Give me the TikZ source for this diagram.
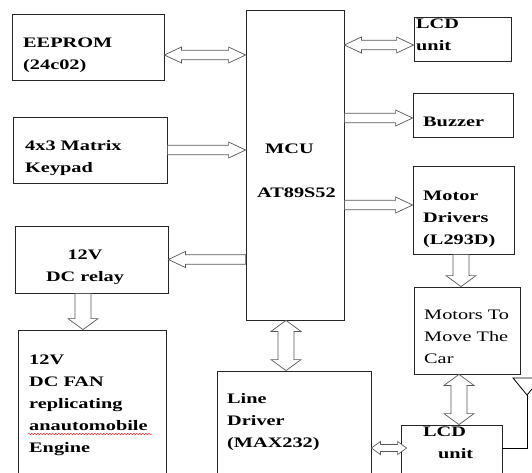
\documentclass[tikz,border=0pt]{standalone}
\usepackage{fontspec}
\setmainfont{Liberation Serif}[FakeStretch=1.4]
\usetikzlibrary{calc,decorations.pathmorphing}

% arrow sizes: head length, shaft and head half widths
% (x for vertical arrows, y for horizontal ones)
\newcommand\hlx{17pt}
\newcommand\hly{11pt}
\newcommand\swx{8pt}
\newcommand\swy{4.75pt}
\newcommand\hwx{15pt}
\newcommand\hwy{8pt}

\begin{document}
\begin{tikzpicture}[x=1pt, y=-1pt,
    box/.style={draw=black!85, line width=0.8pt},
    lbl/.style={anchor=base west, align=left, inner sep=0pt,
        font=\fontsize{14.5}{22}\selectfont\bfseries},
    hollow/.style={draw=black!65, fill=white, line width=0.7pt, line join=miter},
    sarrow/.style={hollow, to path={
        let \p1=(\tikztostart), \p2=(\tikztotarget),
            \n1={veclen(\x2-\x1,\y2-\y1)},
            \n2={(\x2-\x1)/\n1}, \n3={(\y2-\y1)/\n1},
            \p3=({\n2*\hlx},{\n3*\hly}),
            \p4=({-1*\n3*\swx},{\n2*\swy}),
            \p5=({-1*\n3*\hwx},{\n2*\hwy}) in
        ($(\p1)+(\p4)$) -- ($(\p2)-(\p3)+(\p4)$) -- ($(\p2)-(\p3)+(\p5)$) -- (\p2)
        -- ($(\p2)-(\p3)-(\p5)$) -- ($(\p2)-(\p3)-(\p4)$) -- ($(\p1)-(\p4)$) -- cycle}},
    darrow/.style={hollow, to path={
        let \p1=(\tikztostart), \p2=(\tikztotarget),
            \n1={veclen(\x2-\x1,\y2-\y1)},
            \n2={(\x2-\x1)/\n1}, \n3={(\y2-\y1)/\n1},
            \p3=({\n2*\hlx},{\n3*\hly}),
            \p4=({-1*\n3*\swx},{\n2*\swy}),
            \p5=({-1*\n3*\hwx},{\n2*\hwy}) in
        (\p1) -- ($(\p1)+(\p3)+(\p5)$) -- ($(\p1)+(\p3)+(\p4)$)
        -- ($(\p2)-(\p3)+(\p4)$) -- ($(\p2)-(\p3)+(\p5)$) -- (\p2)
        -- ($(\p2)-(\p3)-(\p5)$) -- ($(\p2)-(\p3)-(\p4)$)
        -- ($(\p1)+(\p3)-(\p4)$) -- ($(\p1)+(\p3)-(\p5)$) -- cycle}},
    smallarrow/.code={\def\hlx{9pt}\def\swy{3.5pt}\def\hwy{6.5pt}}]

    \useasboundingbox (0,0) rectangle (532,472);
    \clip (0,0) rectangle (532,472);

    % Boxes
    \node[box, minimum width=152pt, minimum height=66pt] (eeprom) at (88,47) {};
    \node[box, minimum width=154pt, minimum height=66pt] (keypad) at (90,150) {};
    \node[box, minimum width=153pt, minimum height=67pt] (relay) at (91.5,259.5) {};
    \node[box, minimum width=148pt, minimum height=160pt] (fan) at (92,410) {};
    \node[box, minimum width=98pt, minimum height=310pt] (mcu) at (295,165) {};
    \node[box, minimum width=97pt, minimum height=44pt] (lcdtop) at (462.5,39) {};
    \node[box, minimum width=100pt, minimum height=44pt] (buzzer) at (463,115) {};
    \node[box, minimum width=101pt, minimum height=88pt] (drivers) at (463.5,210) {};
    \node[box, minimum width=106pt, minimum height=87pt] (motors) at (467,330.5) {};
    \node[box, minimum width=154pt, minimum height=119pt] (linedrv) at (294,430.5) {};
    \node[box, minimum width=101pt, minimum height=65pt] (lcdbot) at (451.5,457.5) {};

    % Labels (base = last line)
    \node[lbl] (eepromtxt) at (23,69) {EEPROM\\(24c02)};
    \node[lbl] (keypadtxt) at (25,172) {4x3 Matrix\\Keypad};
    \node[lbl, anchor=base, align=center] (relaytxt) at (85,281) {12V\\DC relay};
    \node[lbl] (fantxt) at (29,452) {12V\\DC FAN\\replicating\\anautomobile\\Engine};
    \node[lbl] (mcutxt) at (265,153) {MCU};
    \node[lbl] (cputxt) at (257,197) {AT89S52};
    \node[lbl] (lcdtoptxt) at (416,50) {LCD\\unit};
    \node[lbl] (buzzertxt) at (423,126) {Buzzer};
    \node[lbl] (driverstxt) at (423,244) {Motor\\Drivers\\(L293D)};
    \node[lbl, font=\fontsize{14.5}{22}\selectfont] (motorstxt) at (424,363) {Motors To\\Move The\\Car};
    \node[lbl] (linedrvtxt) at (227,447) {Line\\Driver\\(MAX232)};
    \node[lbl] (lcdbottxt) at (423,458) {LCD\\\hspace*{15pt}unit};
    \draw[red, decorate, decoration={snake, amplitude=0.7pt, segment length=3pt}]
        (28,434) -- (152,434);

    % Arrows
    \draw[darrow] ([yshift=-8pt]eeprom.east) to ([yshift=-8pt]eeprom.east -| mcu.west);
    \draw[sarrow] (keypad.east) to (keypad.east -| mcu.west);
    \draw[sarrow] (relay.east -| mcu.west) to (relay.east);
    \draw[sarrow] ([xshift=-8.5pt]relay.south) to ([xshift=-8.5pt]relay.south |- fan.north);
    \draw[darrow] ([yshift=-6pt]lcdtop.west -| mcu.east) to ([yshift=-6pt]lcdtop.west);
    \draw[sarrow] ([yshift=-3pt]buzzer.west -| mcu.east) to ([yshift=-3pt]buzzer.west);
    \draw[sarrow] ([yshift=5pt]drivers.west -| mcu.east) to ([yshift=5pt]drivers.west);
    \draw[sarrow] ([xshift=-2.5pt]drivers.south) to ([xshift=-2.5pt]drivers.south |- motors.north);
    \draw[darrow] ([xshift=-8pt]motors.south) to ([xshift=-8pt]motors.south |- lcdbot.north);
    \draw[darrow] ([xshift=-9pt]mcu.south) to ([xshift=-9pt]mcu.south |- linedrv.north);
    \draw[darrow, smallarrow] ([yshift=9.5pt]lcdbot.west -| linedrv.east) to ([yshift=9.5pt, xshift=6pt]lcdbot.west);

    % Antenna
    \coordinate (ant) at (527,395);
    \draw[line width=0.8pt] ([yshift=9.5pt]lcdbot.east) -| (ant);
    \draw[line width=0.8pt] (ant) -- (513,378) -- (541,378) -- cycle;
\end{tikzpicture}
\end{document}
